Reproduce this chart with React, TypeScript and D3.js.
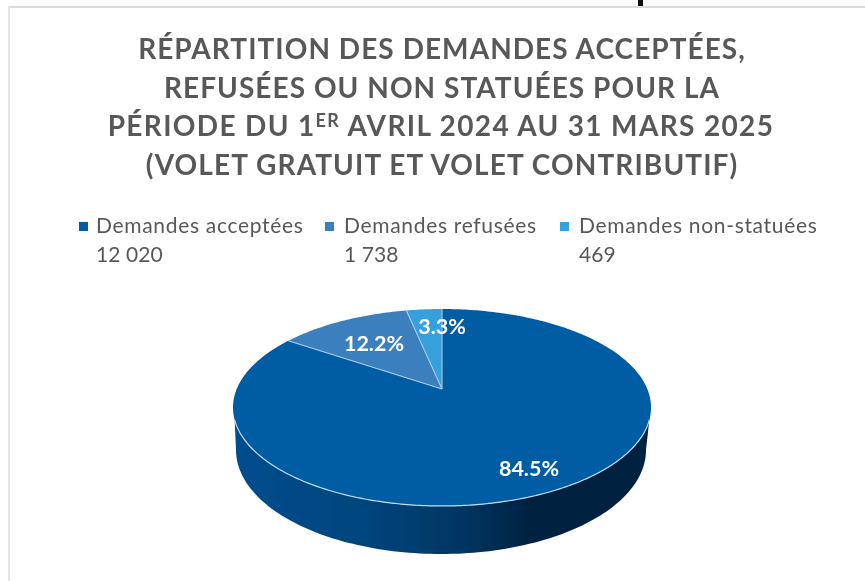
import React from "react";
import * as d3 from "d3";

const categories = ["Demandes acceptées", "Demandes refusées", "Demandes non-statuées"];
const valueLabels = ["12 020", "1 738", "469"];
const values = [12020, 1738, 469];
const percents = ["84.5%", "12.2%", "3.3%"];
const colors = ["#005da3", "#3a7fbf", "#35a0dc"];
const titleLines = [
  "RÉPARTITION DES DEMANDES ACCEPTÉES,",
  "REFUSÉES OU NON STATUÉES POUR LA",
];
const titleLast = "(VOLET GRATUIT ET VOLET CONTRIBUTIF)";

const W = 865, H = 581;
const cx = 442, cy = 389;
const a = 205.3, b = 95, k = 0.1878;
// perspective projection of the pie disc onto the page
const project = (t: number): [number, number] => {
  const u = Math.sin(t), v = Math.cos(t);
  const s = 1 + k * v;
  return [cx + (a * u) / s, cy - (b * v) / s];
};
const pie = d3.pie<number>().sort(null).startAngle(-2 * Math.PI).endAngle(0);
const arcs = pie(values);
const line = d3.line();
const arcPts = (start: number, end: number, n = 0) => {
  const m = n || Math.max(2, Math.ceil(Math.abs(end - start) * 60));
  return d3.range(m + 1).map((i) => project(start + ((end - start) * i) / m));
};
const slicePath = (start: number, end: number) =>
  line([[cx, cy], ...arcPts(start, end)]) + "Z";

// front rim of the top face and the lower edge of the wall
const rimStart = Math.PI / 2 + 0.3127, rimEnd = (3 * Math.PI) / 2 - 0.3127;
const rimPts = arcPts(rimStart, rimEnd, 200);
const bottomCx = 441, bottomCy = 450, bottomRx = 205, bottomRy = 104;
const bottomPts = d3.range(121).map((i): [number, number] => {
  const t = Math.PI - (Math.PI * i) / 120;
  return [bottomCx + bottomRx * Math.cos(t), bottomCy + bottomRy * Math.sin(t)];
});
const sidePath = line([...rimPts, ...bottomPts]) + "Z";

const sideStops: [number, string][] = [
  [0, "#004d8e"],
  [0.3, "#00467f"],
  [0.55, "#003562"],
  [0.72, "#00213f"],
  [1, "#002040"],
];

const labelPos: [number, number][] = [[529, 476], [374, 351], [442, 334]];
const legendX = [79, 325, 560];
const legendTextX = [96, 344, 579];
const lineSpacing = [1.05, 1.05, 1.35, 1.1];

export default function App() {
  const titleStyle: React.CSSProperties = {
    fontFamily: "Lato, sans-serif", fontWeight: 700, fontSize: 28, fill: "#595959",
  };
  return (
    <svg width={W} height={H} viewBox={`0 0 ${W} ${H}`}
      style={{ position: "absolute", left: 0, top: 0, background: "#fff" }}>
      <defs>
        <linearGradient id="side" gradientUnits="userSpaceOnUse" x1={233} x2={651} y1={0} y2={0}>
          {sideStops.map(([o, c]) => <stop key={o} offset={o} stopColor={c} />)}
        </linearGradient>
        <filter id="soft" x="-5%" y="-5%" width="110%" height="110%">
          <feGaussianBlur stdDeviation={0.35} />
        </filter>
      </defs>
      <rect x={8} y={6} width={W - 8} height={2} fill="#dcdcdc" />
      <rect x={638} y={0} width={5} height={6} fill="#111" />
      <rect x={8} y={6} width={2} height={H - 6} fill="#e4e4e4" />
      <g filter="url(#soft)">
        <g textAnchor="middle" style={titleStyle}>
          {titleLines.map((t, i) => (
            <text key={t} x={442} y={59 + i * 38.5} letterSpacing={lineSpacing[i]}>{t}</text>
          ))}
          <text x={441} y={136} letterSpacing={lineSpacing[2]}>
            PÉRIODE DU 1<tspan dy={-9} fontSize={18}>ER</tspan><tspan dy={9}> AVRIL 2024 AU 31 MARS 2025</tspan>
          </text>
          <text x={442} y={175} letterSpacing={lineSpacing[3]}>{titleLast}</text>
        </g>
        {categories.map((c, i) => (
          <g key={c} fontFamily="Lato, sans-serif" fontSize={21} fill="#595959" letterSpacing={0.68}>
            <rect x={legendX[i]} y={222} width={9} height={9} fill={colors[i]} />
            <text x={legendTextX[i]} y={233}>{c}</text>
            <text x={legendTextX[i]} y={262} letterSpacing={0.1}>{valueLabels[i]}</text>
          </g>
        ))}
        <path d={sidePath} fill="url(#side)" />
        {arcs.map((d, i) => (
          <path key={i} d={slicePath(d.startAngle, d.endAngle)} fill={colors[i]} />
        ))}
        <path d={line(rimPts) ?? ""} fill="none" stroke="#c3dbee" strokeWidth={1.2} />
        {arcs.map((d, i) => (
          <path key={i} d={line([[cx, cy], project(d.startAngle)]) ?? ""} fill="none"
            stroke="#a9cbe6" strokeWidth={1.1} />
        ))}
        {percents.map((p, i) => (
          <text key={p} x={labelPos[i][0]} y={labelPos[i][1]} textAnchor="middle"
            fontFamily="Lato, sans-serif" fontWeight={700} fontSize={21.5} fill="#fff">{p}</text>
        ))}
      </g>
    </svg>
  );
}
